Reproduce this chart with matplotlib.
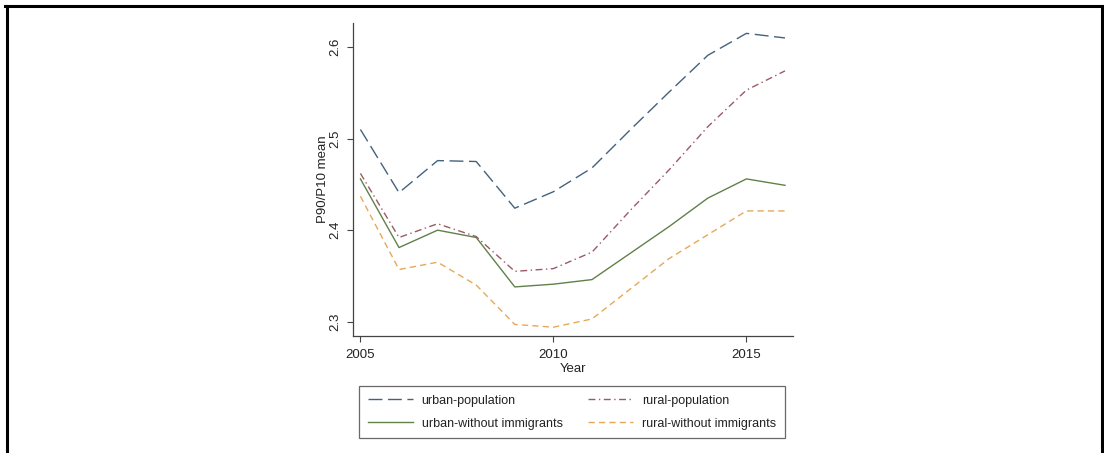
import matplotlib
matplotlib.use("Agg")
import matplotlib.pyplot as plt
from matplotlib.lines import Line2D

years = [2005, 2006, 2007, 2008, 2009, 2010, 2011, 2012, 2013, 2014, 2015, 2016]
urban_population = [2.510, 2.441, 2.476, 2.475, 2.424, 2.442, 2.468, 2.510, 2.551, 2.591, 2.615, 2.610]
rural_population = [2.462, 2.392, 2.407, 2.393, 2.355, 2.358, 2.376, 2.422, 2.466, 2.513, 2.553, 2.574]
urban_without = [2.456, 2.381, 2.400, 2.392, 2.338, 2.341, 2.346, 2.375, 2.404, 2.435, 2.456, 2.449]
rural_without = [2.437, 2.357, 2.365, 2.340, 2.297, 2.294, 2.303, 2.336, 2.369, 2.395, 2.421, 2.421]

labels = ["urban-population", "rural-population", "urban-without immigrants", "rural-without immigrants"]
xticks = [2005, 2010, 2015]
yticks = [2.3, 2.4, 2.5, 2.6]

plt.rcParams['font.family'] = ['Liberation Sans', 'DejaVu Sans']

W, H = 1104, 453
fig = plt.figure(figsize=(W / 100, H / 100), dpi=100)
fig.patch.set_facecolor('white')

ax = fig.add_axes([352.7 / W, 1 - 335.7 / H, 440 / W, (335.7 - 23.3) / H])

c_up = '#43627f'
c_rp = '#9a5a66'
c_uw = '#62804a'
c_rw = '#e6a85a'

l_up, = ax.plot(years, urban_population, color=c_up, lw=1.0, linestyle=(0, (10, 4)))
l_rp, = ax.plot(years, rural_population, color=c_rp, lw=1.0, linestyle=(0, (5, 2.5, 1, 2.5)))
l_uw, = ax.plot(years, urban_without, color=c_uw, lw=1.0, linestyle='-')
l_rw, = ax.plot(years, rural_without, color=c_rw, lw=1.0, linestyle=(0, (4.5, 3)))

ax.set_xlim(2004.8, 2016.2)
ax.set_ylim(2.2847, 2.626)
ax.set_xticks(xticks)
ax.set_yticks(yticks)
ax.set_yticklabels([f"{v:.1f}" for v in yticks], rotation=90, va='center')
for s in ['top', 'right']:
    ax.spines[s].set_visible(False)
for s in ['left', 'bottom']:
    ax.spines[s].set_color('#444444')
    ax.spines[s].set_linewidth(0.9)
ax.tick_params(axis='both', direction='out', length=4.5, width=0.8, color='#444444',
               labelsize=9.5, labelcolor='#222222')
ax.tick_params(axis='x', pad=5)
ax.tick_params(axis='y', pad=3.5)
ax.set_xlabel("Year", fontsize=9.5, color='#222222', labelpad=1.5)
ax.set_ylabel("P90/P10 mean", fontsize=9.5, color='#222222', labelpad=0.5)

leg = fig.legend([l_up, l_uw, l_rp, l_rw], [labels[0], labels[2], labels[1], labels[3]],
                 ncol=2, loc='lower left', mode='expand',
                 bbox_to_anchor=(359 / W, 1 - 438.3 / H, 426 / W, 51.6 / H),
                 fontsize=9, handlelength=3.6, handletextpad=0.7, labelspacing=0.87,
                 borderaxespad=0, borderpad=0.7, columnspacing=1.9,
                 frameon=True, fancybox=False, edgecolor='#444444')
leg.get_frame().set_linewidth(0.9)
for t in leg.get_texts():
    t.set_color('#222222')

# outer border
bc = 'black'
fig.add_artist(Line2D([6.5 / W, 6.5 / W], [0, 1 - 5.5 / H], color=bc, lw=2.2, transform=fig.transFigure))
fig.add_artist(Line2D([1101.5 / W, 1101.5 / W], [0, 1 - 5.5 / H], color=bc, lw=2.2, transform=fig.transFigure))
fig.add_artist(Line2D([5.5 / W, 1102.5 / W], [1 - 5.5 / H, 1 - 5.5 / H], color=bc, lw=2.2, transform=fig.transFigure))

fig.savefig("out.png", dpi=100, facecolor='white')
